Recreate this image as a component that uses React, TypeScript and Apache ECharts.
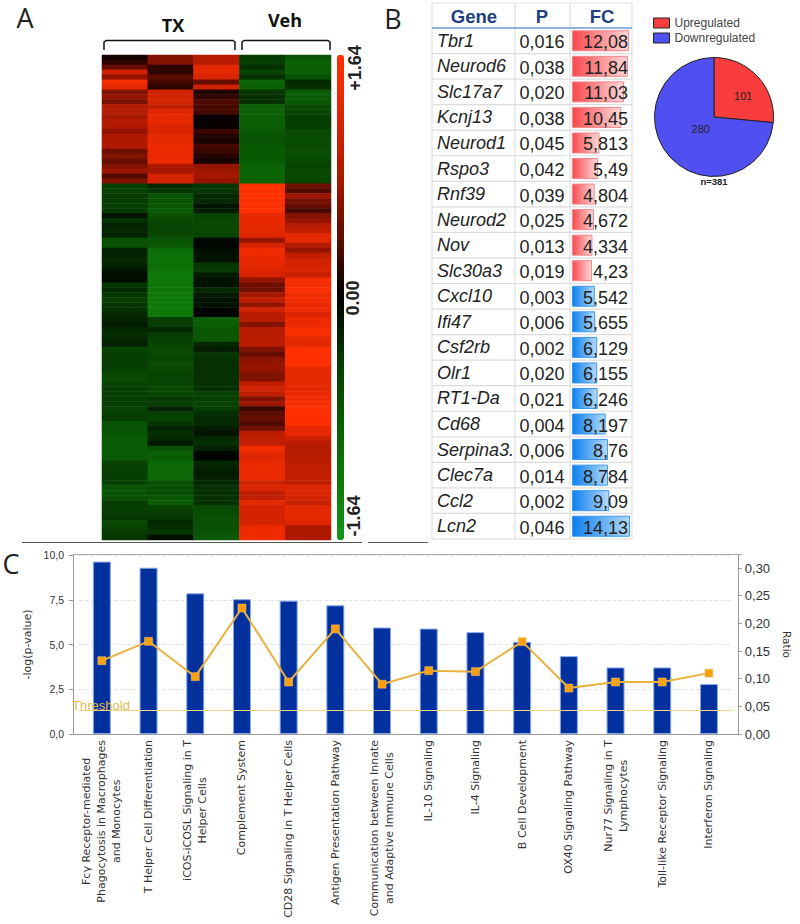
import React, { useEffect, useRef } from "react";
import * as echarts from "echarts";

// ---------- Panel A: heatmap ----------
const heatColumns = ["TX1", "TX2", "TX3", "Veh1", "Veh2"];
const tx1 = [0.1,0.2,0.45,1.1,0.7,1.5,1.3,0.6,0.7,0.55,0.9,0.9,0.8,0.9,0.85,0.7,0.85,0.85,0.85,0.5,0.6,0.45,0.6,0.75,0.35,0.6,
  -0.5,-0.55,-0.45,-0.45,-0.5,-0.45,-0.15,-0.35,-0.25,-0.3,-0.25,-0.7,-0.7,-0.25,-0.25,-0.3,-0.25,-0.15,-0.1,-0.1,-0.4,-0.3,-0.4,-0.5,-0.4,-0.35,-0.3,-0.25,-0.2,-0.3,-0.35,-0.3,-0.25,-0.55,-0.5,-0.5,-0.5,-0.5,-0.6,-0.65,-0.55,-0.5,-0.5,-0.45,-0.5,-0.55,-0.5,-0.45,-0.75,-0.75,-0.75,-0.85,-0.85,-0.85,-0.85,-0.85,-0.55,-0.5,-0.5,-0.5,-0.55,-0.75,-0.75,-0.7,-0.45,-0.5,-0.45,-0.4,-0.6,-0.55,-0.45,-0.4];
const tx2 = [0.6,0.6,0.2,0.2,0.4,0.3,0.2,1.1,1.15,1.15,1.0,1.25,1.3,1.35,1.2,1.2,1.3,1.35,1.4,1.4,1.4,1.4,0.85,0.8,1.15,1.15,
  -0.3,-0.4,-0.75,-0.75,-0.8,-0.85,-0.7,-0.6,-0.55,-0.55,-0.6,-0.75,-0.8,-1.1,-1.15,-1.15,-1.1,-1.15,-1.25,-1.25,-1.2,-1.2,-1.25,-1.25,-1.25,-1.25,-1.25,-0.5,-0.5,-0.3,-0.45,-0.55,-0.55,-0.6,-0.6,-0.55,-0.65,-0.6,-0.55,-0.55,-0.55,-0.6,-0.6,-0.4,-0.5,-0.25,-0.5,-0.55,-0.4,-0.25,-0.35,-0.3,-0.2,-0.7,-0.9,-0.85,-1.0,-1.05,-1.05,-1.0,-0.7,-0.65,-0.65,-0.75,-0.85,-0.55,-0.5,-0.4,-0.3,-0.35,-0.4,-0.1];
const tx3 = [0.9,0.95,1.3,1.3,1.2,0.45,1.1,0.15,0.2,0.35,0.3,0.3,0.05,0.02,0.05,0.25,0.15,0.1,0.3,0.25,0.15,0.1,0.7,0.75,0.8,0.7,
  -0.4,-0.4,-0.3,-0.3,-0.15,-0.2,-0.55,-0.6,-0.6,-0.6,-0.55,-0.05,-0.05,-0.1,-0.15,-0.15,-0.4,-0.45,-0.2,-0.15,-0.15,-0.3,-0.2,-0.15,-0.15,-0.02,-0.02,-0.9,-0.9,-0.8,-0.8,-0.8,-0.3,-0.2,-0.4,-0.35,-0.35,-0.35,-0.35,-0.35,-0.35,-0.35,-0.55,-0.5,-0.55,-0.5,-0.35,-0.3,-0.3,-0.2,-0.15,-0.3,-0.35,-0.25,-0.05,-0.02,-0.3,-0.25,-0.2,-0.25,-0.3,-0.35,-0.35,-0.35,-0.35,-0.6,-0.65,-0.7,-0.7,-0.7,-0.75,-0.8];
const veh1 = [-0.45,-0.5,-0.35,-0.55,-0.35,-0.95,-0.9,-0.4,-0.35,-0.35,-0.9,-0.9,-0.9,-0.9,-0.9,-0.8,-0.75,-0.75,-0.8,-0.85,-0.8,-0.85,-0.95,-0.95,-0.95,-0.95,
  1.64,1.64,1.64,1.64,1.6,1.6,1.35,1.35,1.3,1.3,1.25,0.7,1.15,1.45,1.4,1.35,1.3,1.2,1.15,0.7,0.5,0.5,0.8,1.0,0.7,1.1,0.95,0.9,0.6,0.9,0.95,0.95,0.95,0.6,0.45,0.65,0.7,0.7,0.6,0.6,1.0,1.1,1.0,0.6,0.75,0.25,0.4,0.45,0.35,0.5,0.95,1.0,1.0,1.5,1.3,1.25,1.4,1.4,1.4,1.35,1.1,1.2,1.0,1.0,1.3,1.15,1.15,1.15,1.15,1.4,1.45,1.45];
const veh2 = [-0.75,-0.9,-0.9,-0.9,-0.75,-0.3,-0.35,-0.85,-0.85,-0.8,-0.6,-0.55,-0.5,-0.5,-0.5,-0.65,-0.65,-0.65,-0.6,-0.7,-0.65,-0.6,-0.55,-0.6,-0.6,-0.55,
  0.5,0.35,0.75,0.55,0.45,0.3,0.6,0.7,0.9,1.0,1.3,1.3,0.9,0.7,1.0,1.1,1.15,1.2,1.05,1.55,1.5,1.6,1.45,1.5,1.35,1.45,1.2,1.4,1.4,1.55,1.55,1.3,1.3,1.6,1.64,1.64,1.64,1.35,1.3,1.3,1.3,1.3,1.35,1.45,1.55,1.64,1.64,1.64,1.6,1.35,1.35,1.1,0.95,0.9,0.9,0.95,0.95,1.0,1.0,1.0,1.0,1.25,1.2,1.15,1.05,1.3,1.3,1.3,1.25,0.85,0.85,0.85];
const heatValues = [tx1, tx2, tx3, veh1, veh2];
const heatRowIds = tx1.map((_, i) => String(i));
const heatScale = [-1.64, 1.64];
const scaleTicks = ["+1.64", "0.00", "-1.64"];

// ---------- Panel B: table and pie ----------
const genes = ["Tbr1","Neurod6","Slc17a7","Kcnj13","Neurod1","Rspo3","Rnf39","Neurod2","Nov","Slc30a3","Cxcl10","Ifi47","Csf2rb","Olr1","RT1-Da","Cd68","Serpina3.","Clec7a","Ccl2","Lcn2"];
const pValues = [0.016,0.038,0.020,0.038,0.045,0.042,0.039,0.025,0.013,0.019,0.003,0.006,0.002,0.020,0.021,0.004,0.006,0.014,0.002,0.046];
const fcUp = [12.08,11.84,11.03,10.45,5.813,5.49,4.804,4.672,4.334,4.23,null,null,null,null,null,null,null,null,null,null];
const fcDown = [null,null,null,null,null,null,null,null,null,null,5.542,5.655,6.129,6.155,6.246,8.197,8.76,8.784,9.09,14.13];
const tableHeaders = ["Gene", "P", "FC"];
const pieNames = ["Upregulated", "Downregulated"];
const pieValues = [101, 280];

// ---------- Panel C: pathways ----------
const pathways = [
  "Fcγ Receptor-mediated\nPhagocytosis in Macrophages\nand Monocytes",
  "T Helper Cell Differentiation",
  "iCOS-iCOSL Signaling in T\nHelper Cells",
  "Complement System",
  "CD28 Signaling in T Helper Cells",
  "Antigen Presentation Pathway",
  "Communication between Innate\nand Adaptive Immune Cells",
  "IL-10 Signaling",
  "IL-4 Signaling",
  "B Cell Development",
  "OX40 Signaling Pathway",
  "Nur77 Signaling in T\nLymphocytes",
  "Toll-like Receptor Signaling",
  "Interferon Signaling",
];
const logP = [9.63,9.29,7.86,7.53,7.45,7.19,5.95,5.89,5.69,5.15,4.35,3.72,3.72,2.79];
const ratio = [0.1325,0.1675,0.1036,0.2277,0.094,0.19,0.09,0.1145,0.1127,0.167,0.083,0.094,0.094,0.11];
const threshold = 1.3;

const SANS = "Liberation Sans";
const LABEL_FONT = "DejaVu Sans";
const TABLE_TOP = 28;
const ROW_H = 25.55;
const comma = (v: number, d?: number) => (d === undefined ? String(v) : v.toFixed(d)).replace(".", ",");

function line(x1: number, y1: number, x2: number, y2: number, stroke: string, lineWidth = 1, z = 1) {
  return { type: "line", silent: true, z, shape: { x1, y1, x2, y2 }, style: { stroke, lineWidth } };
}
function text(t: string, x: number, y: number, s: any, rotation = 0, z = 50) {
  return {
    type: "text", silent: true, z, x, y, rotation,
    style: { text: t, align: "center", verticalAlign: "middle", fontFamily: SANS, fill: "#222", ...s },
  };
}

function buildGraphics() {
  const els: any[] = [];
  const L = { fontFamily: "Open Sans", fontSize: 27, fill: "#222" };
  els.push(text("A", 25, 17, L), text("B", 393, 18, L), text("C", 11, 563, L));
  const H = { fontFamily: "Open Sans", fontWeight: "bold", fontSize: 18, fill: "#111" };
  els.push(text("TX", 173, 25, H), text("Veh", 285, 20, H));
  const bracket = (x1: number, x2: number) => ({
    type: "polyline", silent: true, z: 5,
    shape: { points: [[x1, 50], [x1, 42], [x1 + 2, 40.5], [x2 - 2, 40.5], [x2, 42], [x2, 50]] },
    style: { stroke: "#111", lineWidth: 1.5, fill: "none" },
  });
  els.push(bracket(104, 235), bracket(242, 330));
  const T = { fontWeight: "bold", fontSize: 18, fill: "#222" };
  els.push(text(scaleTicks[0], 355, 68, T, Math.PI / 2), text(scaleTicks[1], 353, 298, T, Math.PI / 2), text(scaleTicks[2], 354, 516, T, Math.PI / 2));
  els.push(line(22, 542.5, 362, 542.5, "#555"), line(368, 542.5, 428, 542.5, "#555"));

  // table
  const bottom = TABLE_TOP + ROW_H * genes.length;
  [432, 515, 570, 632].forEach((x) => els.push(line(x, 3, x, bottom, "#dfdfdf", 1.2)));
  els.push(line(432, 3, 632, 3, "#e4e4e4", 1.2));
  genes.forEach((_, i) => {
    if (i > 0) els.push(line(432, TABLE_TOP + i * ROW_H, 632, TABLE_TOP + i * ROW_H, "#dcdcdc", 1.2));
  });
  els.push(line(432, bottom, 632, bottom, "#dcdcdc", 1.2));
  els.push(line(432, TABLE_TOP, 632, TABLE_TOP, "#6d9ad6", 1.6));
  const H2 = { fontWeight: "bold", fontSize: 18.5, fill: "#20407f" };
  [474, 542, 602].forEach((x, i) => els.push(text(tableHeaders[i], x, 16, H2)));
  genes.forEach((_, i) => {
    const y = TABLE_TOP + (i + 0.5) * ROW_H + 1.5;
    els.push(text(comma(pValues[i], 3), 542, y, { fontSize: 18 }));
    const fc = (fcUp[i] ?? fcDown[i]) as number;
    els.push(text(comma(fc), 628, y, { fontSize: 18, align: "right" }));
  });
  els.push(text("n=381", 714, 181, { fontSize: 9.5, fontWeight: "bold" }));

  // panel C frame
  els.push(line(73, 554.5, 742, 554.5, "#aaa", 1.2), line(73, 734.5, 742, 734.5, "#999", 1.2));
  els.push(text("Threshold", 101, 705, { fontSize: 13, fill: "#e2bb4a" }));
  return els;
}

const barGradient = (a: string, b: string) =>
  new echarts.graphic.LinearGradient(0, 0, 1, 0, [{ offset: 0, color: a }, { offset: 1, color: b }]);

function buildOption(): any {
  const heatData: number[][] = [];
  heatValues.forEach((col, c) => col.forEach((v, r) => heatData.push([c, r, v])));
  return {
    animation: false,
    backgroundColor: "#fff",
    textStyle: { fontFamily: SANS },
    graphic: { elements: buildGraphics() },
    grid: [
      { left: 102, top: 55, width: 229, height: 485 },
      { left: 572, top: TABLE_TOP, width: 58, height: ROW_H * genes.length },
      { left: 78.5, top: 555, width: 658, height: 179 },
    ],
    xAxis: [
      { gridIndex: 0, type: "category", data: heatColumns, show: false },
      { gridIndex: 1, type: "value", min: 0, max: 12.3, show: false },
      { gridIndex: 1, type: "value", min: 0, max: 14.13, show: false },
      {
        gridIndex: 2, type: "category", data: pathways,
        axisLine: { show: true, lineStyle: { color: "#999" } },
        axisTick: { show: false },
        axisLabel: {
          interval: 0, rotate: 90, margin: 6, color: "#333", fontFamily: LABEL_FONT, fontSize: 11,
          formatter: (v: string) => v.split("\n").map((l) => `{c|${l}}`).join("\n"),
          rich: { c: { align: "center", fontFamily: LABEL_FONT, fontSize: 11, lineHeight: 15, color: "#333" } },
        },
      },
    ],
    yAxis: [
      { gridIndex: 0, type: "category", data: heatRowIds, inverse: true, show: false },
      {
        gridIndex: 1, type: "category", data: genes, inverse: true,
        axisLine: { show: false }, axisTick: { show: false },
        axisLabel: { align: "left", margin: 135, padding: [3, 0, 0, 0], fontFamily: SANS, fontStyle: "italic", fontSize: 18, color: "#222" },
      },
      {
        gridIndex: 2, type: "value", min: 0, max: 10, interval: 2.5, offset: 5.5,
        name: "-log(p-value)", nameLocation: "middle", nameGap: 36,
        nameTextStyle: { fontFamily: LABEL_FONT, fontSize: 11, color: "#333" },
        axisLine: { show: true, lineStyle: { color: "#999" } },
        axisTick: { show: true, length: 4, lineStyle: { color: "#999" } },
        axisLabel: { formatter: (v: number) => comma(v, 1), fontFamily: SANS, fontSize: 10.5, color: "#333", margin: 9 },
        splitLine: { show: true, lineStyle: { type: "dashed", color: "#e2e2e2" } },
      },
      {
        gridIndex: 2, type: "value", position: "right", min: 0, max: 0.3235, interval: 0.05, offset: 5.5,
        name: "Ratio", nameLocation: "middle", nameGap: 42, nameRotate: -90,
        nameTextStyle: { fontFamily: LABEL_FONT, fontSize: 10.5, color: "#333" },
        axisLine: { show: true, lineStyle: { color: "#999" } },
        axisTick: { show: true, length: 4, lineStyle: { color: "#999" } },
        axisLabel: { formatter: (v: number) => comma(v, 2), fontFamily: SANS, fontSize: 13, color: "#333", margin: 7, showMaxLabel: false },
        splitLine: { show: false },
      },
    ],
    visualMap: {
      type: "continuous", seriesIndex: 0, min: heatScale[0], max: heatScale[1],
      left: 337, top: 55, itemWidth: 7, itemHeight: 485, padding: 0, calculable: false, showLabel: false,
      inRange: { color: ["#129618", "#0e7808", "#0a5a04", "#063802", "#000000", "#5e0c00", "#aa1800", "#de2600", "#ff3000"] },
    },
    legend: {
      data: pieNames, orient: "vertical", left: 653, top: 17, itemWidth: 16, itemHeight: 10, itemGap: 3, padding: 0,
      icon: "rect", textStyle: { fontFamily: SANS, fontSize: 12, color: "#444" },
      itemStyle: { borderColor: "#222", borderWidth: 1 },
      selectedMode: false,
    },
    series: [
      { type: "heatmap", xAxisIndex: 0, yAxisIndex: 0, data: heatData, silent: true, itemStyle: { borderWidth: 0 } },
      {
        type: "bar", name: "up", xAxisIndex: 1, yAxisIndex: 1, data: fcUp, barWidth: 21, barGap: "-100%", silent: true,
        itemStyle: { color: barGradient("#f8494e", "#ffd9d9"), borderColor: "#f0858a", borderWidth: 1 },
      },
      {
        type: "bar", name: "down", xAxisIndex: 2, yAxisIndex: 1, data: fcDown, barWidth: 21, barGap: "-100%", silent: true,
        itemStyle: { color: barGradient("#0c7ff0", "#b4daf8"), borderColor: "#3a98ea", borderWidth: 1 },
      },
      {
        type: "pie", center: [714, 117], radius: [0, 59.5], startAngle: 90, clockwise: true, silent: true,
        data: [
          { name: pieNames[0], value: pieValues[0], itemStyle: { color: "#f93c3c" }, label: { offset: [5, 1] } },
          { name: pieNames[1], value: pieValues[1], itemStyle: { color: "#5050f2" }, label: { offset: [11, -10] } },
        ],
        itemStyle: { borderColor: "#222", borderWidth: 1 },
        label: { show: true, position: "inside", formatter: "{c}", fontFamily: SANS, fontSize: 11, color: "#222" },
        labelLine: { show: false },
      },
      {
        type: "bar", xAxisIndex: 3, yAxisIndex: 2, data: logP, barWidth: 18, silent: true,
        itemStyle: { color: "#02309c", borderColor: "#86a8ec", borderWidth: 1 },
        markLine: {
          silent: true, symbol: "none", label: { show: false },
          lineStyle: { color: "#f2d486", type: "solid", width: 1.2 },
          data: [{ yAxis: threshold }],
        },
      },
      {
        type: "line", xAxisIndex: 3, yAxisIndex: 3, data: ratio, silent: true,
        symbol: "rect", symbolSize: 8, z: 5,
        lineStyle: { color: "#e9b13f", width: 2 },
        itemStyle: { color: "#f9a012", borderColor: "#f6c777", borderWidth: 0.5 },
      },
    ],
  };
}

export default function App() {
  const ref = useRef<HTMLDivElement>(null);
  useEffect(() => {
    document.body.style.margin = "0";
    const chart = echarts.init(ref.current!, null, { renderer: "svg" });
    chart.setOption(buildOption());
    return () => chart.dispose();
  }, []);
  return <div ref={ref} style={{ position: "absolute", left: 0, top: 0, width: 800, height: 924 }} />;
}
